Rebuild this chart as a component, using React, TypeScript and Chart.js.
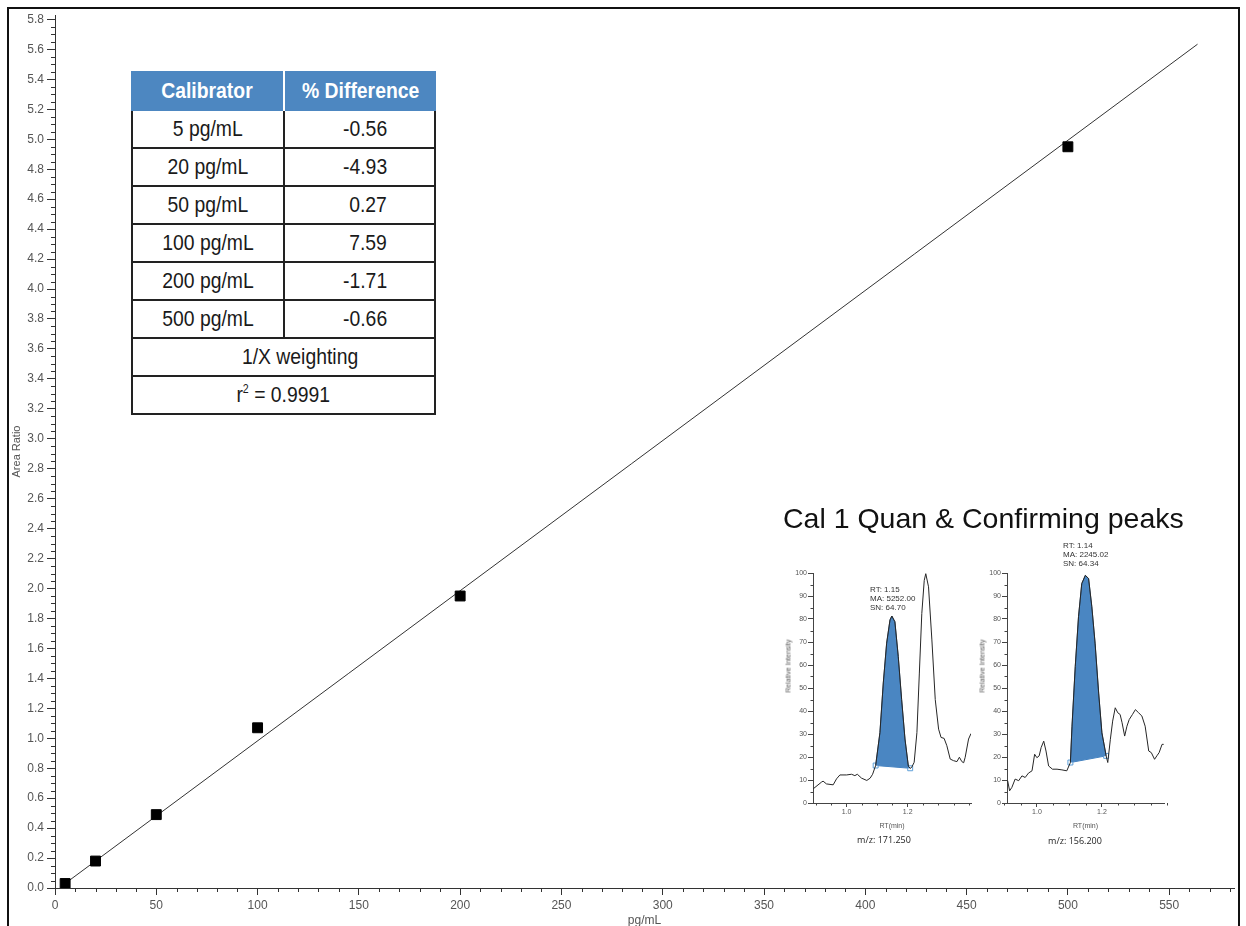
import React, { useEffect, useRef } from 'react';
import { Chart, registerables } from 'chart.js';

Chart.register(...registerables);

// ---------- Main calibration curve data ----------
const concentrations = [5, 20, 50, 100, 200, 500];
const areaRatios = [0.03, 0.18, 0.49, 1.07, 1.95, 4.95];
const fitLineX = [5, 564];
const fitLineY = [0.03, 5.635];
const xTickValues = [0, 50, 100, 150, 200, 250, 300, 350, 400, 450, 500, 550];
const yTickValues = [0, 0.2, 0.4, 0.6, 0.8, 1.0, 1.2, 1.4, 1.6, 1.8, 2.0, 2.2, 2.4, 2.6, 2.8, 3.0, 3.2, 3.4, 3.6, 3.8, 4.0, 4.2, 4.4, 4.6, 4.8, 5.0, 5.2, 5.4, 5.6, 5.8];

// ---------- Table ----------
const calibrators = ['5 pg/mL', '20 pg/mL', '50 pg/mL', '100 pg/mL', '200 pg/mL', '500 pg/mL'];
const differences = ['-0.56', '-4.93', '0.27', '7.59', '-1.71', '-0.66'];

// ---------- Quan peak chromatogram (m/z 171.250) ----------
const quanRT = [0.891, 0.918, 0.923, 0.934, 0.956, 0.967, 0.978, 1.000, 1.016, 1.027, 1.035, 1.049, 1.066, 1.077, 1.085, 1.095, 1.109, 1.120, 1.131, 1.142, 1.148, 1.158, 1.169, 1.180, 1.191, 1.202, 1.208, 1.213, 1.221, 1.230, 1.238, 1.246, 1.254, 1.259, 1.268, 1.279, 1.290, 1.301, 1.309, 1.319, 1.328, 1.339, 1.350, 1.361, 1.369, 1.377, 1.383, 1.388, 1.399, 1.407];
const quanIntensity = [6.2, 9.1, 9.5, 8.3, 7.9, 10.5, 12.2, 12.2, 12.5, 11.9, 12.5, 10.8, 9.8, 10.8, 12.5, 16.3, 30.6, 52.2, 69.5, 79.6, 81.3, 78.8, 63.7, 45.0, 27.8, 16.0, 15.1, 15.5, 17.7, 30.6, 56.5, 82.4, 96.8, 99.7, 94.0, 70.9, 45.0, 32.1, 28.5, 28.1, 24.9, 19.1, 18.4, 18.0, 19.9, 18.0, 17.5, 19.9, 27.8, 30.2];
const quanBaselineRT = [1.095, 1.208];
const quanBaselineIntensity = [16.3, 15.1];
const quanInfo = ['RT: 1.15', 'MA: 5252.00', 'SN: 64.70'];
const quanMz = 'm/z: 171.250';

// ---------- Confirming peak chromatogram (m/z 156.200) ----------
const confRT = [0.910, 0.916, 0.923, 0.933, 0.944, 0.954, 0.964, 0.974, 0.985, 0.993, 1.000, 1.007, 1.013, 1.021, 1.028, 1.036, 1.048, 1.062, 1.077, 1.092, 1.103, 1.108, 1.118, 1.128, 1.138, 1.149, 1.159, 1.169, 1.179, 1.190, 1.200, 1.213, 1.218, 1.226, 1.233, 1.241, 1.249, 1.256, 1.262, 1.270, 1.277, 1.284, 1.294, 1.303, 1.313, 1.323, 1.333, 1.344, 1.352, 1.362, 1.369, 1.376, 1.385, 1.390];
const confIntensity = [9.7, 5.3, 6.8, 10.4, 9.7, 11.8, 11.1, 13.0, 14.0, 21.2, 19.7, 20.5, 24.1, 26.9, 22.6, 16.1, 14.7, 14.7, 14.4, 14.0, 17.6, 33.4, 59.4, 81.0, 95.4, 99.0, 97.6, 85.3, 69.5, 47.8, 30.5, 20.5, 17.6, 27.7, 35.6, 41.4, 39.2, 38.5, 34.9, 29.1, 33.4, 36.3, 38.5, 40.6, 39.2, 37.8, 33.4, 22.6, 21.9, 19.0, 20.5, 21.9, 25.5, 25.5];
const confBaselineRT = [1.103, 1.213];
const confBaselineIntensity = [17.6, 20.5];
const confInfo = ['RT: 1.14', 'MA: 2245.02', 'SN: 64.34'];
const confMz = 'm/z: 156.200';

const insetXTicks = [1.0, 1.2];
const insetYTicks = [0, 10, 20, 30, 40, 50, 60, 70, 80, 90, 100];

const SANS = "'Liberation Sans', Arial, Helvetica, sans-serif";
const BLUE = '#4d87c1';
const PEAK_FILL = '#4a86c2';

// minor tick positions (axis decoration)
const mainXMinor: number[] = [];
for (let i = 1; i <= 58; i++) if (i % 5 !== 0) mainXMinor.push(i * 10);
const mainYMinor: number[] = [];
for (let i = 1; i <= 116; i++) if (i % 4 !== 0) mainYMinor.push(i * 0.05);
const insetXMinor: number[] = [];
for (let i = 18; i <= 28; i++) if (i !== 20 && i !== 24) insetXMinor.push(i * 0.05);
const insetYMinor: number[] = [];
for (let i = 0; i < 10; i++) insetYMinor.push(i * 10 + 5);

const minorTickPlugin = {
  id: 'minorTicks',
  afterDraw(chart: any, _args: any, opts: any) {
    const { ctx } = chart;
    const xs = chart.scales.x;
    const ys = chart.scales.y;
    ctx.save();
    ctx.strokeStyle = opts.color || '#333';
    ctx.lineWidth = 1;
    ctx.beginPath();
    for (const v of opts.x || []) {
      const px = Math.round(xs.getPixelForValue(v)) + 0.5;
      ctx.moveTo(px, xs.top);
      ctx.lineTo(px, xs.top + opts.len);
    }
    for (const v of opts.y || []) {
      const py = Math.round(ys.getPixelForValue(v)) + 0.5;
      ctx.moveTo(ys.right, py);
      ctx.lineTo(ys.right - opts.len, py);
    }
    ctx.stroke();
    ctx.restore();
  },
};

function mainConfig(): any {
  return {
    type: 'scatter',
    data: {
      datasets: [
        {
          data: concentrations.map((x, i) => ({ x, y: areaRatios[i] })),
          pointStyle: 'rect',
          pointRadius: 7,
          pointHoverRadius: 7,
          backgroundColor: '#000',
          borderColor: '#000',
          borderWidth: 1,
          showLine: false,
        },
        {
          data: fitLineX.map((x, i) => ({ x, y: fitLineY[i] })),
          showLine: true,
          borderColor: '#333',
          borderWidth: 1,
          pointRadius: 0,
          fill: false,
        },
      ],
    },
    options: {
      responsive: false,
      animation: false,
      devicePixelRatio: 1,
      layout: { padding: { left: 0, right: 12, top: 15, bottom: 0 } },
      plugins: {
        legend: { display: false },
        tooltip: { enabled: false },
        minorTicks: { x: mainXMinor, y: mainYMinor, len: 4, color: '#333' },
      },
      scales: {
        x: {
          type: 'linear',
          min: 0,
          max: 582,
          afterBuildTicks: (s: any) => {
            s.ticks = xTickValues.map((v) => ({ value: v }));
          },
          afterFit: (s: any) => {
            s.height = 52;
          },
          grid: { drawOnChartArea: false, drawTicks: true, tickLength: 7, tickColor: '#333', tickWidth: 1 },
          border: { display: true, color: '#333', width: 1 },
          ticks: {
            color: '#555',
            font: { family: SANS, size: 12 },
            padding: 3,
            maxRotation: 0,
            autoSkip: false,
            callback: (v: any) => String(v),
          },
          title: {
            display: true,
            text: 'pg/mL',
            color: '#555',
            font: { family: SANS, size: 12 },
            padding: { top: 0, bottom: 12 },
          },
        },
        y: {
          type: 'linear',
          min: 0,
          max: 5.83,
          afterBuildTicks: (s: any) => {
            s.ticks = yTickValues.map((v) => ({ value: v }));
          },
          afterFit: (s: any) => {
            s.width = 55;
          },
          grid: { drawOnChartArea: false, drawTicks: true, tickLength: 8, tickColor: '#333', tickWidth: 1 },
          border: { display: true, color: '#333', width: 1 },
          ticks: {
            color: '#555',
            font: { family: SANS, size: 12 },
            padding: 3,
            autoSkip: false,
            callback: (v: any) => Number(v).toFixed(1),
          },
          title: {
            display: true,
            text: 'Area Ratio',
            color: '#555',
            font: { family: SANS, size: 11 },
            padding: { top: 10, bottom: 0 },
          },
        },
      },
    },
    plugins: [minorTickPlugin],
  };
}

function insetConfig(
  rt: number[],
  inten: number[],
  baseRT: number[],
  baseI: number[],
  xMin: number,
  xMax: number,
  yWidth: number,
  padRight: number,
  xHeight: number
): any {
  const trace = rt.map((x, i) => ({ x, y: inten[i] }));
  const peak = trace.filter((p) => p.x >= baseRT[0] - 1e-9 && p.x <= baseRT[1] + 1e-9);
  const baseline = baseRT.map((x, i) => ({ x, y: baseI[i] }));
  return {
    type: 'line',
    data: {
      datasets: [
        { data: trace, borderColor: '#262626', borderWidth: 1, pointRadius: 0, fill: false, tension: 0 },
        {
          data: peak,
          borderColor: '#1d456e',
          borderWidth: 0.8,
          pointRadius: 0,
          fill: '+1',
          backgroundColor: PEAK_FILL,
          tension: 0,
        },
        {
          data: baseline,
          borderColor: '#3f7fbf',
          borderWidth: 1,
          pointRadius: 3.5,
          pointStyle: 'rect',
          pointBackgroundColor: 'rgba(255,255,255,0.7)',
          pointBorderColor: '#5d9fd8',
          pointBorderWidth: 1,
          fill: false,
        },
      ],
    },
    options: {
      responsive: false,
      animation: false,
      devicePixelRatio: 1,
      layout: { padding: { left: 0, right: padRight, top: 13, bottom: 0 } },
      plugins: {
        legend: { display: false },
        tooltip: { enabled: false },
        minorTicks: { x: insetXMinor, y: insetYMinor, len: 2.5, color: '#444' },
      },
      scales: {
        x: {
          type: 'linear',
          min: xMin,
          max: xMax,
          afterBuildTicks: (s: any) => {
            s.ticks = insetXTicks.map((v) => ({ value: v }));
          },
          afterFit: (s: any) => {
            s.height = xHeight;
          },
          grid: { drawOnChartArea: false, drawTicks: true, tickLength: 4, tickColor: '#444' },
          border: { display: true, color: '#444', width: 1 },
          ticks: {
            color: '#555',
            font: { family: SANS, size: 7 },
            padding: 1,
            maxRotation: 0,
            autoSkip: false,
            callback: (v: any) => Number(v).toFixed(1),
          },
          title: {
            display: true,
            text: 'RT(min)',
            color: '#555',
            font: { family: SANS, size: 7 },
            padding: { top: 0, bottom: 10 },
          },
        },
        y: {
          type: 'linear',
          min: 0,
          max: 100,
          afterBuildTicks: (s: any) => {
            s.ticks = insetYTicks.map((v) => ({ value: v }));
          },
          afterFit: (s: any) => {
            s.width = yWidth;
          },
          grid: { drawOnChartArea: false, drawTicks: true, tickLength: 5, tickColor: '#444' },
          border: { display: true, color: '#444', width: 1 },
          ticks: {
            color: '#555',
            font: { family: SANS, size: 7 },
            padding: 1,
            autoSkip: false,
            callback: (v: any) => String(v),
          },
        },
      },
    },
    plugins: [minorTickPlugin],
  };
}

function ChartCanvas({ make, left, top, width, height }: { make: () => any; left: number; top: number; width: number; height: number }) {
  const ref = useRef<HTMLCanvasElement>(null);
  useEffect(() => {
    const chart = new Chart(ref.current as HTMLCanvasElement, make());
    return () => chart.destroy();
  }, []);
  return (
    <canvas
      ref={ref}
      width={width}
      height={height}
      style={{ position: 'absolute', left, top, width, height, display: 'block' }}
    />
  );
}

const cellCenter: React.CSSProperties = {
  display: 'flex',
  alignItems: 'center',
  justifyContent: 'center',
  boxSizing: 'border-box',
};

function Narrow({ children, origin }: { children: React.ReactNode; origin?: string }) {
  return (
    <span
      style={{
        display: 'inline-block',
        whiteSpace: 'nowrap',
        transform: 'scaleX(0.88)',
        transformOrigin: origin || 'center',
      }}
    >
      {children}
    </span>
  );
}

function CalTable() {
  const rowStyle: React.CSSProperties = {
    display: 'flex',
    height: 38,
    boxSizing: 'border-box',
    borderLeft: '2px solid #222',
    borderRight: '2px solid #222',
    borderBottom: '2px solid #222',
  };
  return (
    <div
      style={{
        position: 'absolute',
        left: 131,
        top: 71,
        width: 305,
        fontFamily: SANS,
        fontSize: 22,
        color: '#1a1a1a',
        background: '#fff',
      }}
    >
      <div
        style={{
          display: 'flex',
          height: 40,
          background: BLUE,
          color: '#fff',
          fontWeight: 'bold',
          fontSize: 22,
        }}
      >
        <div style={{ ...cellCenter, width: 154, borderRight: '2px solid #fff' }}>
          <Narrow>Calibrator</Narrow>
        </div>
        <div style={{ ...cellCenter, flex: 1 }}>
          <Narrow>% Difference</Narrow>
        </div>
      </div>
      {calibrators.map((c, i) => (
        <div key={c} style={rowStyle}>
          <div style={{ ...cellCenter, width: 152, borderRight: '2px solid #222' }}>
            <Narrow>{c}</Narrow>
          </div>
          <div
            style={{
              display: 'flex',
              alignItems: 'center',
              justifyContent: 'flex-end',
              flex: 1,
              paddingRight: 47,
            }}
          >
            <Narrow origin="right center">{differences[i]}</Narrow>
          </div>
        </div>
      ))}
      <div style={{ ...rowStyle, ...cellCenter, paddingLeft: 34 }}>
        <Narrow>1/X weighting</Narrow>
      </div>
      <div style={{ ...rowStyle, ...cellCenter }}>
        <Narrow>
          r<span style={{ fontSize: '0.55em', position: 'relative', top: '-0.75em' }}>2</span>
          {' = 0.9991'}
        </Narrow>
      </div>
    </div>
  );
}

function InfoText({ lines, left, top }: { lines: string[]; left: number; top: number }) {
  return (
    <div
      style={{
        position: 'absolute',
        left,
        top,
        fontFamily: SANS,
        fontSize: 8,
        lineHeight: '9px',
        color: '#333',
        whiteSpace: 'nowrap',
      }}
    >
      {lines.map((l) => (
        <div key={l}>{l}</div>
      ))}
    </div>
  );
}

function CenterText({ text, x, y, size, color, family, rotate }: { text: string; x: number; y: number; size: number; color: string; family: string; rotate?: boolean }) {
  return (
    <div
      style={{
        position: 'absolute',
        left: x,
        top: y,
        transform: `translate(-50%, -50%)${rotate ? ' rotate(-90deg)' : ''}`,
        fontFamily: family,
        fontSize: size,
        lineHeight: 1,
        color,
        whiteSpace: 'nowrap',
      }}
    >
      {text}
    </div>
  );
}

export default function App() {
  return (
    <div
      style={{
        position: 'absolute',
        left: 0,
        top: 0,
        width: 1246,
        height: 926,
        overflow: 'hidden',
        background: '#fff',
      }}
    >
      <ChartCanvas make={mainConfig} left={0} top={0} width={1246} height={940} />
      <CalTable />
      <div
        style={{
          position: 'absolute',
          left: 783,
          top: 504,
          fontFamily: SANS,
          fontSize: 28.5,
          lineHeight: '28.5px',
          color: '#111',
          whiteSpace: 'nowrap',
        }}
      >
        Cal 1 Quan &amp; Confirming peaks
      </div>
      <ChartCanvas
        make={() => insetConfig(quanRT, quanIntensity, quanBaselineRT, quanBaselineIntensity, 0.89, 1.407, 33, 9, 37)}
        left={780}
        top={560}
        width={200}
        height={280}
      />
      <ChartCanvas
        make={() => insetConfig(confRT, confIntensity, confBaselineRT, confBaselineIntensity, 0.908, 1.391, 32, 11, 37)}
        left={975}
        top={560}
        width={200}
        height={280}
      />
      <InfoText lines={quanInfo} left={870} top={585} />
      <InfoText lines={confInfo} left={1063} top={541} />
      <CenterText text="Relative Intensity" x={788} y={666} size={7} color="#555" family={SANS} rotate />
      <CenterText text="Relative Intensity" x={982} y={666} size={7} color="#555" family={SANS} rotate />
      <CenterText text={quanMz} x={884} y={839} size={9} color="#222" family="'Open Sans', 'Liberation Sans', sans-serif" />
      <CenterText text={confMz} x={1075} y={840} size={9} color="#222" family="'Open Sans', 'Liberation Sans', sans-serif" />
      <div
        style={{
          position: 'absolute',
          left: 7,
          top: 7,
          width: 1233,
          height: 960,
          border: '2px solid #111',
          boxSizing: 'border-box',
          pointerEvents: 'none',
        }}
      />
    </div>
  );
}
